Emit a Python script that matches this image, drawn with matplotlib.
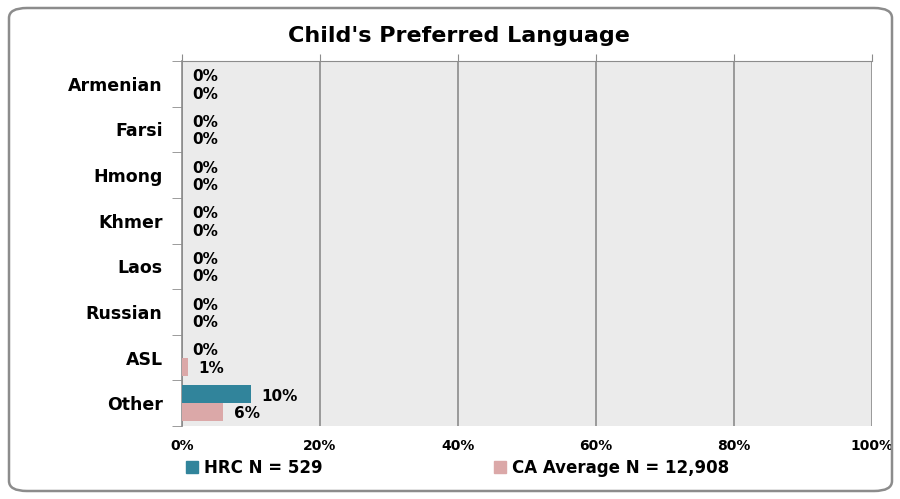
import numpy as np
import matplotlib
matplotlib.use("Agg")
import matplotlib.pyplot as plt
from matplotlib.patches import FancyBboxPatch, Patch

plt.rcParams['font.family'] = ['DejaVu Sans']
plt.rcParams['font.weight'] = 'bold'

# Datos
idiomas = ["Armenian", "Farsi", "Hmong", "Khmer", "Laos", "Russian", "ASL", "Other"]
hrc = [0, 0, 0, 0, 0, 0, 0, 10]
ca_promedio = [0, 0, 0, 0, 0, 0, 0.9, 6]
etiquetas_hrc = ["0%", "0%", "0%", "0%", "0%", "0%", "0%", "10%"]
etiquetas_ca = ["0%", "0%", "0%", "0%", "0%", "0%", "1%", "6%"]
ticks_x = [0, 20, 40, 60, 80, 100]

color_hrc = "#31849B"
color_ca = "#DBA8A8"

fig = plt.figure(figsize=(9, 4.99), dpi=100)
ax = fig.add_axes([182 / 900, 73 / 499, 690 / 900, 365 / 499])

# Borde redondeado de la figura
borde = FancyBboxPatch((9 / 900, 8 / 499), 883 / 900, 483 / 499,
                       boxstyle="round,pad=0,rounding_size=0.02",
                       transform=fig.transFigure, fill=False,
                       edgecolor="#8C8C8C", linewidth=1.8, zorder=0)
fig.patches.append(borde)

y = np.arange(len(idiomas))
alto = 0.4
ax.barh(y - alto / 2, hrc, height=alto, color=color_hrc, zorder=3)
ax.barh(y + alto / 2, ca_promedio, height=alto, color=color_ca, zorder=3)

for i in range(len(idiomas)):
    ax.text(hrc[i] + 1.5, y[i] - alto / 2 + 0.05, etiquetas_hrc[i], va="center",
            ha="left", fontsize=11, fontweight="bold", zorder=4)
    ax.text(ca_promedio[i] + 1.5, y[i] + alto / 2 + 0.03, etiquetas_ca[i], va="center",
            ha="left", fontsize=11, fontweight="bold", zorder=4)

ax.set_xlim(0, 100)
ax.set_ylim(len(idiomas) - 0.5, -0.5)
ax.set_facecolor("#EBEBEB")

ax.set_xticks(ticks_x)
ax.set_xticklabels([f"{t}%" for t in ticks_x], fontsize=10, fontweight="bold")
ax.tick_params(axis="x", top=True, bottom=False, labelbottom=True,
               direction="out", length=5, color="#8C8C8C", pad=4)
ax.grid(axis="x", color="#8C8C8C", linewidth=1.2, zorder=1)

ax.set_yticks(y)
ax.set_yticklabels(idiomas, fontsize=12.5, fontweight="bold")
ax.set_yticks(np.arange(len(idiomas) + 1) - 0.5, minor=True)
ax.tick_params(axis="y", which="major", length=0, pad=14)
ax.tick_params(axis="y", which="minor", length=7, color="#8C8C8C", direction="out")

for lado in ["right", "bottom"]:
    ax.spines[lado].set_visible(False)
ax.spines["top"].set_color("#8C8C8C")
ax.spines["left"].set_color("#8C8C8C")
ax.spines["left"].set_linewidth(1.2)

fig.text(459 / 900, 463 / 499, "Child's Preferred Language", ha="center",
         va="center", fontsize=16, fontweight="bold")

# Leyenda en dos partes para ubicar cada entrada como en el original
entradas = [(Patch(color=color_hrc, label="HRC N = 529"), 186),
            (Patch(color=color_ca, label="CA Average N = 12,908"), 494)]
for parche, x_px in entradas:
    fig.legend(handles=[parche], loc="center left",
               bbox_to_anchor=(x_px / 900, 31 / 499), frameon=False,
               handlelength=0.7, handleheight=0.7, handletextpad=0.35,
               borderpad=0, borderaxespad=0,
               prop={"weight": "bold", "size": 12})

fig.savefig("out.png", dpi=100)
